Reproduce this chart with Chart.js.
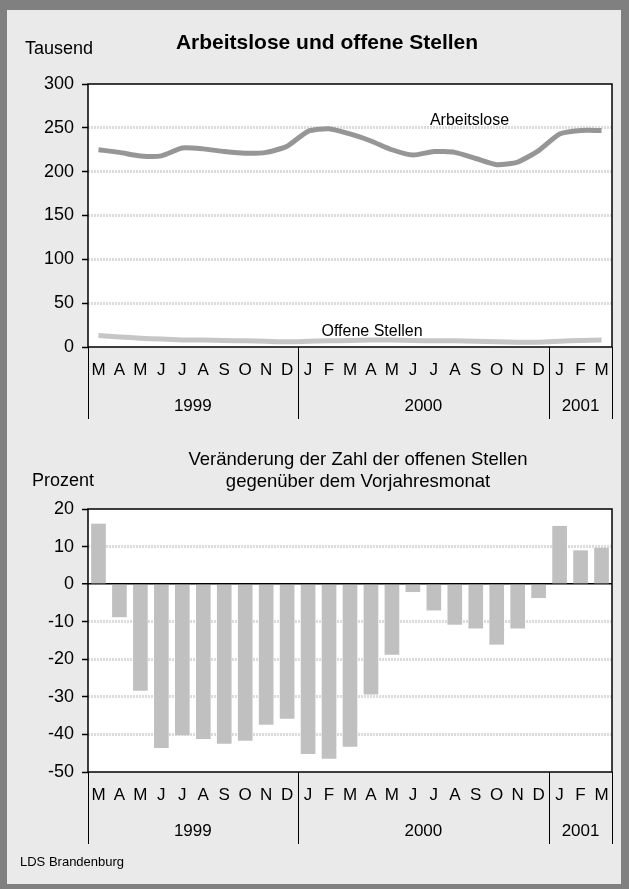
<!DOCTYPE html>
<html>
<head>
<meta charset="utf-8">
<script src="https://cdn.jsdelivr.net/npm/chart.js@4"></script>
<style>
  body { margin: 0; background: #808080; width: 629px; height: 889px; overflow: hidden; font-family: "Liberation Sans", Arial, sans-serif; }
  .panel { position: absolute; left: 7px; top: 10px; width: 614px; height: 874px; background: #eaeaea; }
  .wrap { position: absolute; left: 0; width: 629px; height: 440px; }
  .txt { position: absolute; color: #000; white-space: nowrap; }
</style>
</head>
<body>
<div class="panel"></div>
<div class="wrap" style="top:0"><canvas id="top"></canvas></div>
<div class="wrap" style="top:440px"><canvas id="bottom"></canvas></div>
<div class="txt" style="left:25px;top:38px;font-size:18px;">Tausend</div>
<div class="txt" style="left:0;width:654px;top:30px;font-size:21px;font-weight:bold;text-align:center;">Arbeitslose und offene Stellen</div>
<div class="txt" style="left:32px;top:470px;font-size:18px;">Prozent</div>
<div class="txt" style="left:93px;width:530px;top:448px;font-size:18.5px;text-align:center;line-height:22px;">Veränderung der Zahl der offenen Stellen<br>gegenüber dem Vorjahresmonat</div>
<div class="txt" style="left:20px;top:854px;font-size:13px;">LDS Brandenburg</div>

<script>
// months from March 1999 to March 2001
const months = ['M','A','M','J','J','A','S','O','N','D','J','F','M','A','M','J','J','A','S','O','N','D','J','F','M'];
const years = [['1999', 0, 10], ['2000', 10, 22], ['2001', 22, 25]];

// thousands
const arbeitslose = [225,222,218,218,227,226,223,221,222,229,246,249,243,235,225,219,223,222,215,208,211,224,243,247,247];
const offeneStellen = [13,11.5,10,9,8,8,7.5,7,6.5,6,6.5,7,7.5,8,8,7.5,7,7,6.5,6,5.5,5.5,6.5,7.5,8];

// percent change against same month of previous year
const veraenderung = [16.1,-8.8,-28.4,-43.6,-40.2,-41.2,-42.5,-41.7,-37.4,-35.8,-45.2,-46.5,-43.3,-29.4,-18.8,-2.1,-7.0,-10.8,-11.8,-16.1,-11.8,-3.7,15.5,9.0,9.7];

const FONT = "'Liberation Sans', Arial, sans-serif";
Chart.defaults.font.family = FONT;
Chart.defaults.color = '#000';

// white plot background + black frame + year row under the months
const framePlugin = {
  id: 'frame',
  beforeDraw(chart) {
    const a = chart.chartArea, ctx = chart.ctx;
    ctx.save();
    ctx.fillStyle = '#fff';
    ctx.fillRect(a.left, a.top, a.right - a.left, a.bottom - a.top);
    ctx.restore();
  },
  afterDraw(chart) {
    const a = chart.chartArea, ctx = chart.ctx, x = chart.scales.x;
    ctx.save();
    ctx.strokeStyle = '#000';
    ctx.lineWidth = 1.5;
    ctx.strokeRect(a.left, a.top, a.right - a.left, a.bottom - a.top);
    // year separators and labels
    ctx.lineWidth = 1;
    ctx.font = '17px ' + FONT;
    ctx.fillStyle = '#000';
    ctx.textAlign = 'center';
    ctx.textBaseline = 'middle';
    const edge = i => i <= 0 ? a.left : i >= months.length ? a.right
      : (x.getPixelForTick(i - 1) + x.getPixelForTick(i)) / 2;
    [0, 10, 22, 25].forEach(i => {
      const px = Math.round(edge(i)) + 0.5;
      ctx.beginPath();
      ctx.moveTo(px, a.bottom);
      ctx.lineTo(px, a.bottom + 72);
      ctx.stroke();
    });
    years.forEach(([label, s, e]) => {
      ctx.fillText(label, (edge(s) + edge(e)) / 2, a.bottom + 59);
    });
    ctx.restore();
  }
};

// inline series labels in the top chart
const seriesLabels = {
  id: 'seriesLabels',
  afterDatasetsDraw(chart) {
    const ctx = chart.ctx, x = chart.scales.x, y = chart.scales.y;
    ctx.save();
    ctx.font = '16px ' + FONT;
    ctx.fillStyle = '#000';
    ctx.textAlign = 'center';
    ctx.textBaseline = 'middle';
    ctx.fillText('Arbeitslose', x.getPixelForValue(17.7), y.getPixelForValue(258));
    ctx.fillText('Offene Stellen', x.getPixelForValue(13.05), y.getPixelForValue(18));
    ctx.restore();
  }
};

function xScale() {
  return {
    offset: true,
    grid: { display: false, drawTicks: false },
    border: { display: false },
    ticks: { autoSkip: false, maxRotation: 0, padding: 13, font: { size: 17 } },
    afterFit: s => { s.height = 80; }
  };
}

function yScale(min, max, step, zeroBlack) {
  return {
    min: min, max: max,
    border: {
      display: false,
      dash: ctx => (ctx.tick && ctx.tick.value === 0 && zeroBlack) ? [] : [2, 1]
    },
    grid: {
      lineWidth: ctx => (ctx.tick && ctx.tick.value === 0 && zeroBlack) ? 1.5 : 3,
      color: ctx => {
        const v = ctx.tick ? ctx.tick.value : null;
        if (v === min || v === max) return 'rgba(0,0,0,0)';
        if (v === 0 && zeroBlack) return '#000';
        return '#dcdcdc';
      },
      tickColor: '#000',
      tickLength: 6,
      tickWidth: 1.5,
      tickBorderDash: []
    },
    ticks: { stepSize: step, padding: 8, font: { size: 18 } },
    afterFit: s => { s.width = 60; }
  };
}

new Chart(document.getElementById('top'), {
  type: 'line',
  data: {
    labels: months,
    datasets: [
      { label: 'Arbeitslose', data: arbeitslose, borderColor: '#969696', borderWidth: 5, pointRadius: 0, tension: 0.2 },
      { label: 'Offene Stellen', data: offeneStellen, borderColor: '#c6c6c6', borderWidth: 5, pointRadius: 0, tension: 0.2 }
    ]
  },
  options: {
    responsive: true,
    maintainAspectRatio: false,
    animation: false,
    layout: { padding: { top: 84, left: 28, right: 17, bottom: 13 } },
    plugins: { legend: { display: false }, tooltip: { enabled: false } },
    scales: { x: xScale(), y: yScale(0, 300, 50, false) }
  },
  plugins: [framePlugin, seriesLabels]
});

new Chart(document.getElementById('bottom'), {
  type: 'bar',
  data: {
    labels: months,
    datasets: [
      { label: 'Veränderung', data: veraenderung, backgroundColor: '#c0c0c0', barPercentage: 0.7, categoryPercentage: 1 }
    ]
  },
  options: {
    responsive: true,
    maintainAspectRatio: false,
    animation: false,
    layout: { padding: { top: 69, left: 28, right: 17, bottom: 28 } },
    plugins: { legend: { display: false }, tooltip: { enabled: false } },
    scales: { x: xScale(), y: yScale(-50, 20, 10, true) }
  },
  plugins: [framePlugin]
});
</script>
</body>
</html>
